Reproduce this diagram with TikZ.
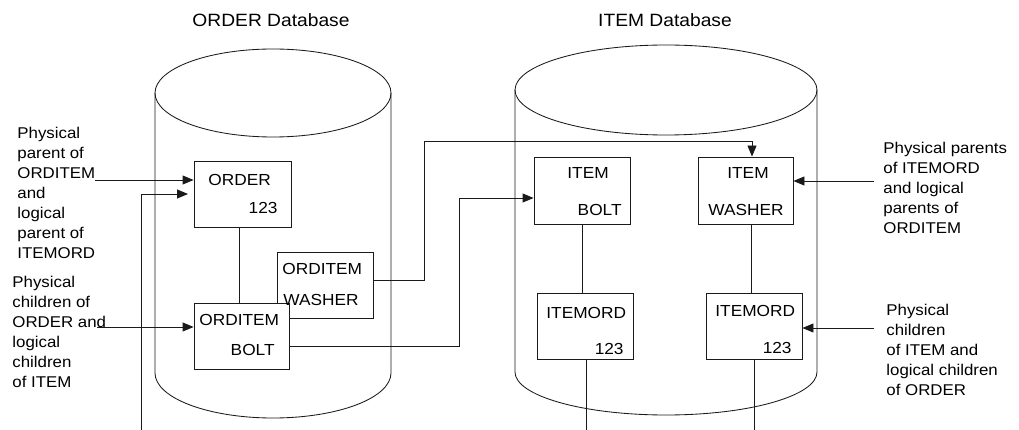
\documentclass[tikz,border=0pt]{standalone}
\usepackage{fontspec}
\setmainfont{Liberation Sans}[FakeStretch=1.08]
\usetikzlibrary{arrows.meta}
\definecolor{ink}{HTML}{1A1A1A}
\begin{document}
\begin{tikzpicture}[x=1pt,y=-1pt,
  line width=0.85pt, draw=ink, text=black,
  box/.style={draw=ink, fill=white, inner sep=0pt},
  btxt/.style={inner sep=0pt, font=\fontsize{16}{19}\selectfont},
  lbl/.style={inner sep=0pt, align=left, anchor=north west, font=\fontsize{15.6}{20}\selectfont},
  ttl/.style={inner sep=0pt, font=\fontsize{17.8}{20}\selectfont},
  arr/.style={draw=ink, -{Triangle[length=11pt,width=9pt]}}]
\useasboundingbox (0,0) rectangle (1019,430);

% titles
\node[ttl] (t1) at (271,20) {ORDER Database};
\node[ttl] (t2) at (665,20) {ITEM Database};

% cylinders
\draw (273,93) ellipse [x radius=118, y radius=44];
\draw (155,93) -- (155,373) arc[start angle=180, end angle=0, x radius=118, y radius=45] -- (391,93);
\draw (666,90) ellipse [x radius=151, y radius=45];
\draw (515,90) -- (515,372) arc[start angle=180, end angle=0, x radius=151, y radius=43] -- (817,90);

% boxes
\node[box, minimum width=97, minimum height=66] (order) at (242.5,194) {};
\node[box, minimum width=96, minimum height=66] (oiwasher) at (325,285) {};
\node[box, minimum width=95, minimum height=66] (oibolt) at (241.5,336) {};
\node[box, minimum width=96, minimum height=67] (itembolt) at (582,190.5) {};
\node[box, minimum width=95, minimum height=67] (itemwasher) at (745.5,190.5) {};
\node[box, minimum width=96, minimum height=66] (iordl) at (585,326) {};
\node[box, minimum width=96, minimum height=66] (iordr) at (754,326) {};

% box texts
\node[btxt, anchor=west] (order1) at (208,180) {ORDER};
\node[btxt, anchor=east] (order2) at (278,208) {123};
\node[btxt, anchor=west] (oiw1) at (282,269) {ORDITEM};
\node[btxt, anchor=west] (oiw2) at (283,300) {WASHER};
\node[btxt, anchor=west] (oib1) at (199,320) {ORDITEM};
\node[btxt, anchor=east] (oib2) at (275,350) {BOLT};
\node[btxt, anchor=west] (ib1) at (567,173) {ITEM};
\node[btxt, anchor=east] (ib2) at (622,210) {BOLT};
\node[btxt] (iw1) at (748,173) {ITEM};
\node[btxt] (iw2) at (746,210) {WASHER};
\node[btxt, anchor=west] (il1) at (546,313) {ITEMORD};
\node[btxt, anchor=east] (il2) at (624,349) {123};
\node[btxt, anchor=west] (ir1) at (715,311) {ITEMORD};
\node[btxt, anchor=east] (ir2) at (792,348) {123};

% hierarchy lines
\draw ([xshift=-3.5pt]order.south) -- ([xshift=-3.5pt]order.south |- oibolt.north);
\draw (itembolt.south) -- (itembolt.south |- iordl.north);
\draw ([xshift=5.5pt]itemwasher.south) -- ([xshift=5.5pt]itemwasher.south |- iordr.north);
\coordinate (bot) at (0,430);
\draw ([xshift=1pt]iordl.south) -- ([xshift=1pt]iordl.south |- bot);
\draw (iordr.south) -- (iordr.south |- bot);

% left labels
\node[lbl] (l1) at (17,126.5) {Physical\\parent of\\ORDITEM\\and\\logical\\parent of\\ITEMORD};
\node[lbl] (l2) at (12,275.5) {Physical\\children of\\ORDER and\\logical\\children\\of ITEM};
% right labels
\node[lbl] (r1) at (883,141.5) {Physical parents\\of ITEMORD\\and logical\\parents of\\ORDITEM};
\node[lbl] (r2) at (886,303.5) {Physical\\children\\of ITEM and\\logical children\\of ORDER};

% arrows
\coordinate (a1) at (95,180);
\draw[arr] (a1) -- (a1 -| order.west);
\coordinate (a2) at (141,430);
\coordinate (a2tip) at (188,194);
\draw[arr] (a2) |- (a2tip);
\coordinate (a3) at (97,327);
\draw[arr] (a3) -- (a3 -| oibolt.west);

\draw[arr] ([yshift=5pt]oiwasher.east) -| (424,141) -| ([xshift=6.5pt]itemwasher.north);
\draw[arr] ([yshift=-10pt]oibolt.east) -| (459,198) -- ([yshift=-7.5pt]itembolt.west);

\coordinate (b1) at (874,181);
\draw[arr] (b1) -- (b1 -| itemwasher.east);
\coordinate (b2) at (874,328);
\draw[arr] (b2) -- (b2 -| iordr.east);
\end{tikzpicture}
\end{document}
